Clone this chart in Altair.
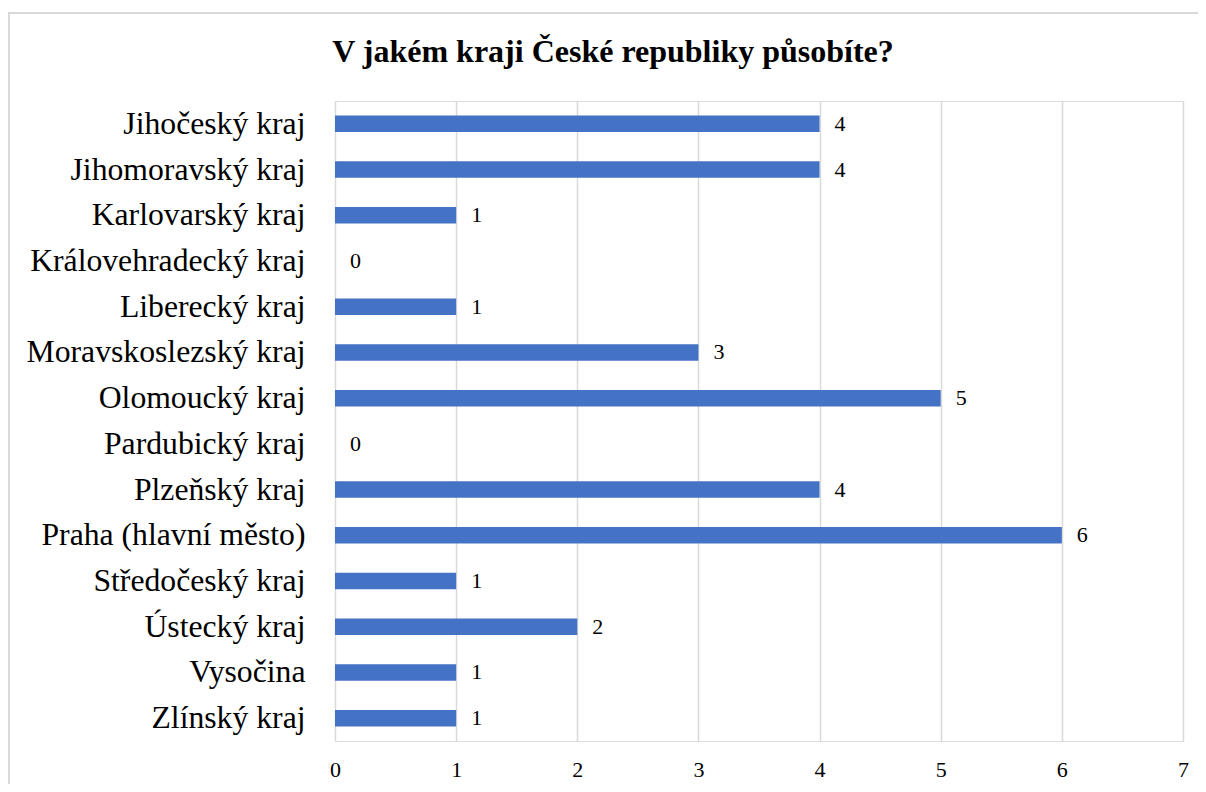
import altair as alt
import pandas as pd

regions = [
    "Jihočeský kraj",
    "Jihomoravský kraj",
    "Karlovarský kraj",
    "Královehradecký kraj",
    "Liberecký kraj",
    "Moravskoslezský kraj",
    "Olomoucký kraj",
    "Pardubický kraj",
    "Plzeňský kraj",
    "Praha (hlavní město)",
    "Středočeský kraj",
    "Ústecký kraj",
    "Vysočina",
    "Zlínský kraj",
]
counts = [4, 4, 1, 0, 1, 3, 5, 0, 4, 6, 1, 2, 1, 1]
x_ticks = [0, 1, 2, 3, 4, 5, 6, 7]

df = pd.DataFrame({"kraj": regions, "pocet": counts})

FONT = "Liberation Serif"
BAR = "#4472C4"
GRID = "#D9D9D9"

y_enc = alt.Y(
    "kraj:N",
    sort=regions,
    scale=alt.Scale(paddingInner=0.64, paddingOuter=0.32),
    axis=alt.Axis(
        title=None, domain=False, ticks=False, labelPadding=30,
        labelFontSize=31.7, labelFont=FONT, labelColor="#000000",
        labelLimit=400,
    ),
)
x_enc = alt.X(
    "pocet:Q",
    scale=alt.Scale(domain=[0, 7], nice=False),
    axis=alt.Axis(
        title=None, domain=False, ticks=False, values=x_ticks, format="d",
        labelFontSize=22, labelFont=FONT, labelColor="#000000",
        labelPadding=18, labelFlush=False, grid=True, gridColor=GRID,
        gridWidth=1.5,
    ),
)

bars = alt.Chart(df).mark_bar(color=BAR, size=16.5).encode(x=x_enc, y=y_enc)

labels = alt.Chart(df).mark_text(
    align="left", baseline="middle", dx=15, fontSize=22, font=FONT, color="#000000"
).encode(x="pocet:Q", y=alt.Y("kraj:N", sort=regions), text="pocet:Q")

border = alt.Chart(df).mark_rect(
    fill=None, stroke=GRID, strokeWidth=1.5, clip=False
).encode(
    x=alt.value(-326), x2=alt.value(1000), y=alt.value(-88), y2=alt.value(900)
)

chart = (
    alt.layer(border, bars, labels)
    .properties(
        width=848,
        height=640,
        title=alt.TitleParams(
            "V jakém kraji České republiky působíte?",
            font=FONT, fontSize=32, fontWeight="bold", color="#000000",
            anchor="middle", dx=-146, offset=0, dy=57,
        ),
        padding={"left": 327, "top": 93, "right": 15, "bottom": 43},
        autosize=alt.AutoSizeParams(type="none"),
    )
    .configure_view(stroke=None)
    .configure(background="#ffffff")
)

chart.save("out.html", embed_options={"renderer": "svg", "actions": False})
